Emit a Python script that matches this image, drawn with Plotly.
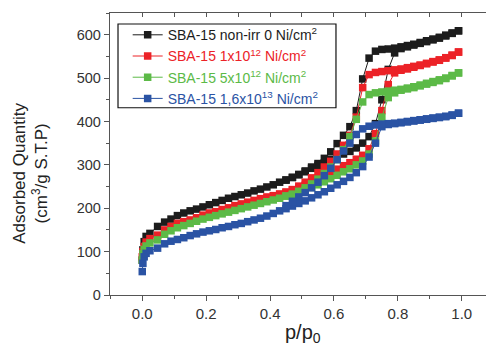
import plotly.graph_objects as go

# Relative pressure grid (adsorption branch, shared by all samples)
p_ads = [0.0, 0.002, 0.006, 0.012, 0.024, 0.048, 0.07, 0.09, 0.11, 0.13, 0.15, 0.17, 0.19,
         0.21, 0.23, 0.25, 0.27, 0.29, 0.31, 0.33, 0.35, 0.37, 0.39, 0.41, 0.43, 0.45, 0.47,
         0.49, 0.51, 0.53, 0.55, 0.57, 0.59, 0.61, 0.63, 0.65, 0.67, 0.69, 0.71, 0.73, 0.75,
         0.77, 0.79, 0.81, 0.83, 0.85, 0.87, 0.89, 0.91, 0.93, 0.95, 0.97, 0.99]
# Desorption branch grid
p_des = [0.99, 0.97, 0.95, 0.93, 0.91, 0.89, 0.87, 0.85, 0.83, 0.81, 0.79, 0.77, 0.75, 0.73,
         0.71, 0.69, 0.67, 0.65, 0.63, 0.61, 0.59, 0.57, 0.55, 0.53, 0.51, 0.49, 0.47, 0.45]

black_ads = [80, 104, 123, 135, 142, 158, 168, 175, 183, 189, 194, 198, 203, 208, 213, 218,
             223, 227, 231, 235, 240, 244, 249, 254, 260, 265, 271, 277, 284, 292, 299, 305,
             312, 318, 325, 331, 339, 350, 365, 395, 450, 520, 558, 568, 572, 576, 580, 584,
             588, 592, 597, 603, 609]
black_des = [609, 604, 599, 594, 590, 586, 582, 578, 575, 572, 569, 567, 566, 562, 546, 498,
             425, 388, 368, 349, 330, 315, 303, 295, 286, 278, 271, 265]

red_ads = [88, 100, 112, 122, 130, 138, 150, 158, 165, 169, 173, 178, 184, 189, 192, 197,
           201, 206, 210, 214, 218, 222, 226, 229, 233, 237, 242, 247, 253, 259, 266, 273,
           280, 290, 298, 305, 313, 322, 337, 372, 425, 485, 512, 518, 521, 525, 529, 533,
           537, 541, 546, 552, 560]
red_des = [560, 553, 547, 542, 538, 534, 530, 527, 524, 521, 519, 517, 515, 513, 508, 478,
           410, 368, 345, 325, 308, 295, 282, 270, 260, 251, 243, 237]

green_ads = [81, 95, 105, 113, 120, 127, 140, 148, 155, 160, 165, 170, 175, 179, 183, 187,
             191, 195, 199, 203, 207, 211, 215, 219, 223, 228, 232, 237, 242, 248, 254, 261,
             268, 276, 284, 291, 300, 309, 325, 355, 410, 455, 466, 472, 475, 478, 482, 486,
             490, 494, 499, 505, 512]
green_des = [512, 506, 500, 496, 492, 488, 484, 480, 477, 474, 472, 470, 468, 466, 462, 445,
             405, 365, 335, 312, 295, 280, 267, 256, 247, 239, 232, 228]

blue_ads = [54, 73, 88, 96, 102, 108, 118, 124, 128, 132, 137, 141, 145, 148, 151, 155, 158,
            162, 165, 169, 173, 177, 182, 188, 194, 199, 205, 211, 217, 224, 231, 238, 246,
            254, 262, 271, 282, 296, 318, 350, 388, 393, 395, 397, 399, 401, 403, 405, 407,
            409, 411, 414, 419]
blue_des = [419, 415, 412, 410, 408, 406, 404, 402, 400, 398, 396, 395, 394, 392, 389, 383,
            370, 350, 332, 312, 292, 275, 260, 247, 236, 226, 216, 206]

names = ['SBA-15 non-irr 0 Ni/cm<sup>2</sup>',
         'SBA-15 1x10<sup>12</sup> Ni/cm<sup>2</sup>',
         'SBA-15 5x10<sup>12</sup> Ni/cm<sup>2</sup>',
         'SBA-15 1,6x10<sup>13</sup> Ni/cm<sup>2</sup>']
colors = ['#1c1c1c', '#ec2227', '#5cba47', '#2a53a4']
ads_sets = [black_ads, red_ads, green_ads, blue_ads]
des_sets = [black_des, red_des, green_des, blue_des]

x_ticks = [0.0, 0.2, 0.4, 0.6, 0.8, 1.0]
x_tick_labels = ['0.0', '0.2', '0.4', '0.6', '0.8', '1.0']
y_ticks = [0, 100, 200, 300, 400, 500, 600]
x_title = 'p/p<sub>0</sub>'
y_title = 'Adsorbed Quantity<br>(cm<sup>3</sup>/g S.T.P)'

fig = go.Figure()
for name, col, ya, yd in zip(names, colors, ads_sets, des_sets):
    xs = p_ads + [None] + p_des
    ys = ya + [None] + yd
    fig.add_trace(go.Scatter(
        x=xs, y=ys, mode='lines+markers', connectgaps=False,
        name='<span style="color:%s">%s</span>' % (col, name),
        line=dict(color=col, width=1),
        marker=dict(symbol='square', size=7.5, color=col, line=dict(width=0)),
    ))

# dummy trace to enable the top mirrored axis (inward ticks)
fig.add_trace(go.Scatter(x=[None], y=[None], xaxis='x2', showlegend=False, hoverinfo='skip'))

axis_col = '#555555'
font_fam = 'Liberation Sans, Arial, sans-serif'
fig.update_layout(
    width=487, height=353,
    margin=dict(l=110, r=1, t=13, b=58, autoexpand=False),
    paper_bgcolor='white', plot_bgcolor='white',
    font=dict(family=font_fam, size=13, color='#333333'),
    showlegend=True,
    legend=dict(x=0.047, y=0.978, xanchor='left', yanchor='top',
                bgcolor='rgba(0,0,0,0)', borderwidth=0,
                font=dict(size=14, family=font_fam),
                itemwidth=30, tracegroupgap=0),
    shapes=[dict(type='rect', xref='paper', yref='paper',
                 x0=0.0213, x1=0.601, y0=0.664, y1=0.961,
                 line=dict(color='#111111', width=1.2), fillcolor='white', layer='below')],
    annotations=[
        dict(text=x_title, xref='paper', yref='paper', x=0.513, y=-0.135,
             xanchor='center', yanchor='middle', showarrow=False,
             font=dict(size=20, color='#222222')),
        dict(text=y_title, xref='paper', yref='paper', x=-0.21, y=0.43,
             xanchor='center', yanchor='middle', textangle=-90, showarrow=False,
             font=dict(size=17, color='#222222')),
    ],
    xaxis=dict(range=[-0.101, 1.076], tickvals=x_ticks, ticktext=x_tick_labels,
               ticks='outside', ticklen=5, tickwidth=1, tickcolor=axis_col,
               minor=dict(dtick=0.1, tick0=0, ticks='outside', ticklen=3, tickcolor=axis_col),
               showline=True, linecolor=axis_col, linewidth=1.3, showgrid=False, zeroline=False,
               automargin=False, tickfont=dict(size=15)),
    xaxis2=dict(range=[-0.101, 1.076], overlaying='x', side='top', anchor='y',
                dtick=0.1, tick0=0, ticks='inside', ticklen=4, tickcolor=axis_col,
                showticklabels=False, showline=True, linecolor=axis_col, linewidth=1.3,
                showgrid=False, zeroline=False, automargin=False),
    yaxis=dict(range=[0, 650], tickvals=y_ticks, ticks='outside', ticklen=5, tickwidth=1,
               tickcolor=axis_col,
               minor=dict(dtick=50, tick0=0, ticks='outside', ticklen=3, tickcolor=axis_col),
               showline=True, linecolor=axis_col, linewidth=1.3, showgrid=False, zeroline=False,
               automargin=False, tickfont=dict(size=14.5)),
)

fig.write_html('out.html', config={'displayModeBar': False},
               post_script="document.body.style.margin='0';")
